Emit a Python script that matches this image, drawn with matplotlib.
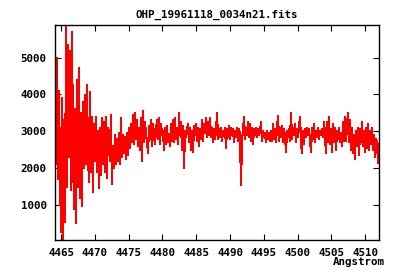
import numpy as np
import matplotlib
matplotlib.use("Agg")
import matplotlib.pyplot as plt

# spectrum header (FITS style linear wavelength solution)
crval1 = 4464.1
cdelt1 = 0.148

flux = [
    # 4464 - 4472
    4900, 2100, 5000, 1700, 4100, 1900, 270, 3900, 50, 3300,
    540, 5850, 1500, 5350, 2300, 5170, 1400, 5710, 2500, 900,
    3600, 500, 4400, 1500, 4710, 1180, 3500, 960, 3800, 2000,
    3990, 2100, 4260, 2300, 1630, 4080, 1900, 3400, 1360, 3200,
    2200, 3400, 1900, 3000, 1450, 3100, 1800, 3350, 2100, 3250,
    1900, 3400, 1720, 3100,
    # 4472 - 4480
    3000, 2200, 3450, 1560, 2600, 2000, 2900, 2100, 2800, 2200,
    2950, 2100, 3350, 2300, 2900, 2400, 2850, 2250, 2950, 2350,
    3100, 2550, 3200, 2700, 3450, 2650, 3500, 2800, 3300, 2600,
    3100, 2500, 3350, 2200, 3550, 2700, 3250, 2900, 2750, 2400,
    3150, 2800, 3300, 2600, 3200, 2900, 2650, 3050, 3300, 2800,
    3350, 2650, 3200, 2900,
    # 4480 - 4488
    3000, 2500, 3100, 2650, 3150, 2700, 2900, 2600, 3200, 2750,
    3300, 2700, 3350, 2800, 3100, 2650, 3500, 2900, 3250, 2500,
    3150, 2000, 3000, 2850, 3050, 3200, 2700, 3100, 2500, 3000,
    2450, 3150, 2900, 3200, 2750, 3100, 2600, 3050, 2800, 3300,
    2750, 3200, 2950, 3350, 2850, 3250, 2900, 3350, 2850, 3100,
    2700, 3050, 2800, 3000,
    # 4488 - 4496
    3500, 2800, 3050, 2850, 3100, 2750, 3000, 2900, 3100, 2550,
    3050, 2850, 3150, 2800, 3100, 2900, 3050, 2700, 3000, 2850,
    3100, 2750, 3050, 2900, 1530, 2800, 3000, 3380, 2800, 3100,
    2900, 3250, 2850, 3200, 2750, 3100, 2650, 3050, 2900, 3100,
    2850, 3050, 2900, 3000, 3250, 2750, 3000, 2850, 2950, 2700,
    3000, 2800, 2950, 2750,
    # 4496 - 4504
    3000, 2750, 3200, 2800, 3050, 2700, 3100, 3420, 2750, 3100,
    2850, 3150, 2700, 3050, 2850, 2450, 3000, 2850, 3050, 2750,
    3490, 2800, 3100, 2900, 3200, 2700, 3050, 2850, 3100, 3400,
    2700, 2400, 3000, 2650, 3050, 2850, 3100, 2900, 3050, 2750,
    2450, 3100, 2800, 3200, 2700, 3000, 2850, 3100, 2800, 3000,
    2900, 3050, 2850, 3250,
    # 4504 - 4512
    2900, 2400, 3250, 2700, 3400, 2650, 3050, 2450, 3200, 2700,
    3100, 2500, 3000, 2800, 3100, 2700, 2950, 2600, 3250, 2750,
    3400, 2750, 3150, 3500, 2700, 3300, 2500, 3100, 2400, 2900,
    2250, 3000, 2600, 3100, 2350, 3050, 2700, 3250, 2600, 3000,
    2450, 3100, 2550, 3200, 2500, 3000, 2650, 3100, 2500, 2900,
    2300, 2800, 2700, 2150, 2650,
]

x_ticks = [4465, 4470, 4475, 4480, 4485, 4490, 4495, 4500, 4505, 4510]
y_ticks = [1000, 2000, 3000, 4000, 5000]

flux = np.array(flux, dtype=float)
wave = crval1 + cdelt1 * np.arange(len(flux))

font = {"family": "DejaVu Sans Mono", "weight": "bold", "size": 7.8}

fig = plt.figure(figsize=(4, 2.8), dpi=100)
ax = fig.add_axes([55 / 400, 40 / 280, 324 / 400, 215 / 280])
ax.plot(wave, flux, color="#ff0000", lw=0.8, antialiased=False)

ax.set_xlim(4464.1, 4512.05)
ax.set_ylim(49, 5887)
ax.set_xticks(x_ticks)
ax.set_yticks(y_ticks)
ax.set_xticklabels([str(t) for t in x_ticks], fontdict=font)
ax.set_yticklabels([str(t) for t in y_ticks], fontdict=font)
ax.tick_params(direction="in", length=4, width=0.8, top=True, right=True,
               pad=6, colors="black")
for s in ax.spines.values():
    s.set_linewidth(1.0)

fig.text(217 / 400, 1 - 15 / 280, "OHP_19961118_0034n21.fits",
         ha="center", va="center", **font)
fig.text(385 / 400, 1 - 262 / 280, "Angstrom", ha="right", va="center", **font)

fig.savefig("out.png", dpi=100)
